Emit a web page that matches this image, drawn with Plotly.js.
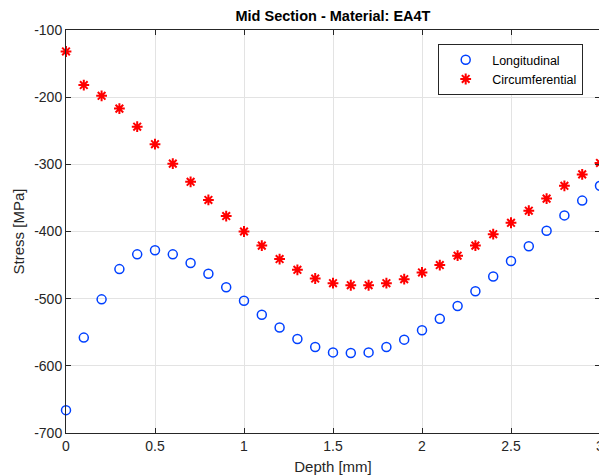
<!DOCTYPE html>
<html>
<head>
<meta charset="utf-8">
<script src="https://cdn.plot.ly/plotly-3.0.1.min.js"></script>
<style>
html,body{margin:0;padding:0;overflow:hidden;background:#fff;}
#chart{width:600px;height:476px;}
</style>
</head>
<body>
<div id="chart"></div>
<script>
const depth = [0,0.1,0.2,0.3,0.4,0.5,0.6,0.7,0.8,0.9,1.0,1.1,1.2,1.3,1.4,1.5,1.6,1.7,1.8,1.9,2.0,2.1,2.2,2.3,2.4,2.5,2.6,2.7,2.8,2.9,3.0];
const longitudinal = [-666,-558,-501,-456,-434,-428,-434,-447,-463,-483,-503,-524,-543,-560,-572,-580,-581,-580,-572,-561,-547,-530,-511,-489,-467,-444,-422,-399,-376,-354,-332];
const circumferential = [-132,-182,-198,-217,-244,-270,-299,-326,-353,-377,-400,-421,-441,-457,-470,-477,-480,-480,-477,-471,-461,-450,-436,-421,-404,-387,-369,-351,-332,-315,-298];
const yTickVals = [-700,-600,-500,-400,-300,-200,-100];
const yTickText = ["-700","-600","-500","-400","-300","-200","-100"];
const xTickVals = [0,0.5,1,1.5,2,2.5,3];
const xTickText = ["0","0.5","1","1.5","2","2.5","3"];

const font = "Liberation Sans, Arial, Helvetica, sans-serif";
const axisColor = "#262626";

const traces = [
  {
    x: depth, y: longitudinal, name: "Longitudinal",
    type: "scatter", mode: "markers", cliponaxis: false,
    marker: {symbol: "circle-open", size: 9, color: "rgb(0,64,255)", line: {width: 1.5, color: "rgb(0,64,255)"}}
  },
  {
    x: depth, y: circumferential, name: "Circumferential",
    type: "scatter", mode: "markers", cliponaxis: false,
    marker: {symbol: "asterisk-open", size: 9, color: "#ff0000", line: {width: 2, color: "#ff0000"}}
  }
];

const layout = {
  width: 600, height: 476,
  margin: {l: 66, r: 0, t: 30, b: 43, pad: 0},
  paper_bgcolor: "#ffffff", plot_bgcolor: "#ffffff",
  font: {family: font, size: 14, color: axisColor},
  title: {text: "<b>Mid Section - Material: EA4T</b>", font: {family: font, size: 14.5, color: "#000000"},
          x: 0.5, xref: "paper", xanchor: "center", y: 1 - 16/476, yref: "container", yanchor: "middle"},
  xaxis: {
    range: [0, 3], tickvals: xTickVals, ticktext: xTickText,
    showgrid: true, gridcolor: "#e3e3e3", gridwidth: 1, zeroline: false,
    showline: true, linecolor: axisColor, linewidth: 1, mirror: "ticks",
    ticks: "inside", ticklen: 5, tickcolor: axisColor, ticklabeloverflow: "allow",
    tickfont: {family: font, size: 14, color: axisColor},
    title: {text: "Depth [mm]", font: {family: font, size: 15, color: axisColor}, standoff: 8}
  },
  yaxis: {
    range: [-700, -100], tickvals: yTickVals, ticktext: yTickText,
    showgrid: true, gridcolor: "#e3e3e3", gridwidth: 1, zeroline: false,
    showline: true, linecolor: axisColor, linewidth: 1, mirror: "ticks",
    ticks: "inside", ticklen: 5, tickcolor: axisColor,
    tickfont: {family: font, size: 14, color: axisColor},
    title: {text: "Stress [MPa]", font: {family: font, size: 15, color: axisColor}, standoff: 5}
  },
  showlegend: true,
  legend: {
    x: 0.697, y: 0.965, xanchor: "left", yanchor: "top",
    bgcolor: "#ffffff", bordercolor: axisColor, borderwidth: 1,
    font: {family: font, size: 12.5, color: "#000000"},
    itemwidth: 43, tracegroupgap: 0
  }
};

Plotly.newPlot("chart", traces, layout, {displayModeBar: false, staticPlot: true});
</script>
</body>
</html>
